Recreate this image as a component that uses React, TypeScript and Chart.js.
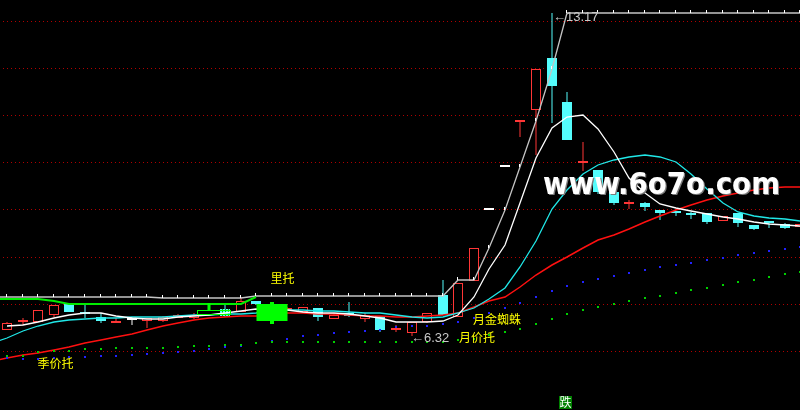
import React, { useEffect, useRef } from "react";
import { Chart, registerables } from "chart.js";

Chart.register(...registerables);

// ---------------- data ----------------
const barIndex = Array.from({ length: 52 }, (_, i) => i);

const opens = [
  6.44, 6.62, 6.62, 6.76, 7.01, 6.80, 6.72, 6.58, 6.65, 6.63,
  6.63, 6.70, 6.69, 7.01, 6.89, 6.83, 7.06, 6.99, 6.86, 6.83,
  6.90, 6.67, 6.79, 6.67, 6.74, 6.44, 6.38, 6.60, 7.18, 6.72,
  7.49, 8.99, 9.89, 10.86, 11.10, 12.22, 11.28, 9.99, 9.84, 9.38,
  9.12, 9.14, 8.99, 8.935, 8.89, 8.92, 8.76, 8.92, 8.67, 8.72,
  8.68, 8.63,
];
const highs = [
  6.61, 6.69, 6.87, 6.97, 7.01, 6.97, 6.79, 6.70, 6.72, 6.69,
  6.73, 6.78, 6.79, 7.01, 6.97, 7.15, 7.06, 7.04, 6.92, 6.92,
  6.90, 6.79, 7.04, 6.80, 6.74, 6.55, 6.60, 6.81, 7.50, 7.43,
  8.17, 8.99, 9.89, 10.88, 11.98, 13.17, 11.50, 10.44, 9.84, 9.38,
  9.19, 9.15, 8.99, 8.97, 8.95, 8.92, 8.86, 8.93, 8.67, 8.74,
  8.72, 8.69,
];
const lows = [
  6.44, 6.55, 6.62, 6.72, 6.83, 6.69, 6.58, 6.58, 6.55, 6.48,
  6.60, 6.70, 6.68, 6.86, 6.72, 6.83, 6.98, 6.57, 6.86, 6.80,
  6.64, 6.67, 6.72, 6.62, 6.40, 6.39, 6.32, 6.59, 6.75, 6.72,
  7.49, 8.99, 9.89, 10.54, 10.16, 10.84, 10.47, 9.82, 9.33, 9.10,
  9.00, 8.97, 8.78, 8.85, 8.79, 8.69, 8.76, 8.63, 8.56, 8.60,
  8.58, 8.62,
];
const closes = [
  6.58, 6.66, 6.86, 6.97, 6.83, 6.78, 6.64, 6.63, 6.65, 6.69,
  6.72, 6.76, 6.76, 6.86, 6.74, 7.06, 6.99, 6.63, 6.90, 6.92,
  6.71, 6.76, 6.74, 6.76, 6.45, 6.46, 6.60, 6.81, 6.76, 7.43,
  8.17, 8.99, 9.89, 10.88, 11.98, 11.62, 10.47, 10.03, 9.38, 9.13,
  9.14, 9.06, 8.93, 8.925, 8.88, 8.74, 8.86, 8.71, 8.58, 8.71,
  8.61, 8.68,
];

const ma5 = [
  6.524, 6.556, 6.599, 6.694, 6.758, 6.794, 6.794, 6.747, 6.694, 6.673,
  6.673, 6.705, 6.737, 6.758, 6.79, 6.843, 6.885, 6.874, 6.864, 6.828,
  6.81, 6.794, 6.78, 6.747, 6.694, 6.62, 6.603, 6.603, 6.63, 6.758,
  7.13, 7.735, 8.244, 9.14, 10.09, 10.722, 10.968, 10.994, 10.707, 10.219,
  9.667, 9.338, 9.115, 9.02, 8.966, 8.892, 8.839, 8.786, 8.733, 8.70,
  8.673, 8.654,
];
const ma10 = [
  6.28, 6.418, 6.535, 6.61, 6.652, 6.673, 6.688, 6.699, 6.709, 6.716,
  6.726, 6.741, 6.754, 6.762, 6.775, 6.788, 6.811, 6.843, 6.868, 6.864,
  6.849, 6.838, 6.828, 6.811, 6.794, 6.758, 6.722, 6.694, 6.705, 6.8,
  6.917, 7.098, 7.331, 7.777, 8.329, 9.01, 9.412, 9.752, 9.943, 10.04,
  10.123, 10.155, 10.123, 10.017, 9.752, 9.433, 9.136, 8.945, 8.87, 8.824,
  8.792, 8.76,
];
const ma20 = [
  5.845, 5.9, 5.96, 6.015, 6.078, 6.163, 6.227, 6.285, 6.355, 6.44,
  6.524, 6.595, 6.652, 6.684, 6.716, 6.731, 6.737, 6.769, 6.794, 6.79,
  6.78, 6.769, 6.758, 6.747, 6.737, 6.726, 6.726, 6.737, 6.758, 6.811,
  6.928, 7.055, 7.14, 7.359, 7.597, 7.83, 8.0, 8.191, 8.34, 8.467,
  8.594, 8.733, 8.86, 8.977, 9.094, 9.2, 9.285, 9.348, 9.412, 9.455,
  9.47, 9.47,
];
const prevHigh = [
  7.147, 7.147, 7.147, 7.147, 7.147, 7.147, 7.147, 7.147, 7.147, 7.147,
  7.113, 7.113, 7.113, 7.113, 7.113, 7.113, 7.16, 7.16, 7.16, 7.16,
  7.16, 7.16, 7.16, 7.16, 7.16, 7.16, 7.16, 7.16, 7.16, 7.50,
  7.50, 8.17, 8.99, 9.89, 10.88, 11.98, 13.17, 13.17, 13.17, 13.17,
  13.17, 13.17, 13.17, 13.17, 13.17, 13.17, 13.17, 13.17, 13.17, 13.17,
  13.17, 13.17,
];
const greenLine: (number | null)[] = [
  7.10, 7.10, 7.10, 7.06, 7.0, 6.99, 6.99, 6.99, 6.99, 6.99,
  6.99, 6.99, 6.99, 6.99, 6.99, 7.0, 7.15, null, null, null,
  null, null, null, null, null, null, null, null, null, null,
  null, null, null, null, null, null, null, null, null, null,
  null, null, null, null, null, null, null, null, null, null,
  null, null,
];
// values of the bar just left of the visible window (only the lines reach into view)
const ma10Before = 6.167;
const ma20Before = 5.786;
const prevHighBefore = 7.147;
const greenLineBefore = 7.10;

const blueDots = [
  5.851, 5.83, 5.834, 5.845, 5.856, 5.873, 5.894, 5.894, 5.915, 5.936,
  5.957, 5.966, 6.0, 6.042, 6.072, 6.11, 6.157, 6.212, 6.255, 6.306,
  6.333, 6.369, 6.391, 6.425, 6.439, 6.497, 6.524, 6.531, 6.561, 6.609,
  6.684, 6.79, 6.9, 7.019, 7.147, 7.274, 7.38, 7.465, 7.529, 7.592,
  7.656, 7.72, 7.783, 7.826, 7.868, 7.926, 7.975, 8.038, 8.081, 8.123,
  8.166, 8.212,
];
const greenDots = [
  5.894, 5.887, 5.966, 6.0, 6.0, 6.03, 6.042, 6.064, 6.057, 6.064,
  6.057, 6.085, 6.094, 6.106, 6.127, 6.127, 6.157, 6.178, 6.178, 6.178,
  6.178, 6.178, 6.178, 6.178, 6.178, 6.178, 6.178, 6.178, 6.185, 6.227,
  6.259, 6.323, 6.391, 6.467, 6.573, 6.679, 6.786, 6.87, 6.934, 6.998,
  7.061, 7.125, 7.168, 7.231, 7.295, 7.338, 7.401, 7.465, 7.507, 7.571,
  7.635, 7.677,
];

const gridPrices = [6, 7, 8, 9, 10, 11, 12, 13];
const thinGreenBars = [13];
const wideGreenBars = [17];
const hatchedBars = [14];
const boxPos = [13.27];
const boxLow = [6.758];
const boxHigh = [6.864];
const lowMarkBar = 26;
const highMarkBar = 35;

const yellowLabels = [
  { text: "里托", x: 270.5, y: 278 },
  { text: "季价托", x: 37.5, y: 363 },
  { text: "月金蜘蛛", x: 473, y: 319.5 },
  { text: "月价托", x: 459, y: 337.5 },
];
const WATERMARK = "www.6o7o.com";

// ---------------- styles ----------------
const UP = "#ff3636";
const DOWN = "#54fcfc";
const FLAT = "#ffffff";
const GREEN = "#00ff00";
const X_MIN = -0.4695;
const X_MAX = 50.978;
const Y_MIN = 4.741;
const Y_MAX = 13.446;

function candleColor(i: number) {
  if (closes[i] > opens[i]) return UP;
  if (closes[i] < opens[i]) return DOWN;
  return FLAT;
}

function makeTile(w: number, h: number, draw: (g: CanvasRenderingContext2D) => void) {
  const c = document.createElement("canvas");
  c.width = w;
  c.height = h;
  draw(c.getContext("2d")!);
  return c;
}

const gridPlugin = {
  id: "dottedGrid",
  beforeDatasetsDraw(chart: any) {
    const { ctx, chartArea, scales } = chart;
    ctx.save();
    ctx.strokeStyle = "#b00000";
    ctx.lineWidth = 1;
    ctx.setLineDash([1, 3]);
    gridPrices.forEach((v) => {
      const py = Math.round(scales.y.getPixelForValue(v)) + 0.5;
      ctx.beginPath();
      ctx.moveTo(chartArea.left + 3, py);
      ctx.lineTo(chartArea.right, py);
      ctx.stroke();
    });
    ctx.restore();
  },
};

const labelPlugin = {
  id: "labels",
  afterDatasetsDraw(chart: any) {
    const { ctx, scales } = chart;
    const xs = scales.x;
    const ys = scales.y;
    ctx.save();
    // watermark
    ctx.font = 'bold 28px "DejaVu Sans"';
    const w = ctx.measureText(WATERMARK).width;
    ctx.save();
    ctx.translate(543, 193.5);
    ctx.scale(237 / w, 1.05);
    ctx.textAlign = "left";
    ctx.textBaseline = "alphabetic";
    ctx.fillStyle = "#7c7c7c";
    ctx.fillText(WATERMARK, 1.2, 1.5);
    ctx.fillStyle = "#ffffff";
    ctx.fillText(WATERMARK, 0, 0);
    ctx.restore();

    // yellow labels
    ctx.font = '12px "Noto Sans CJK SC"';
    ctx.textAlign = "left";
    ctx.textBaseline = "middle";
    ctx.fillStyle = "#ffff00";
    yellowLabels.forEach((l) => ctx.fillText(l.text, l.x, l.y));

    // high / low marks
    ctx.font = '13px "Liberation Sans Narrow", "Liberation Sans", sans-serif';
    ctx.fillStyle = "#c8c8c8";
    ctx.fillText(
      "←" + lows[lowMarkBar].toFixed(2),
      xs.getPixelForValue(lowMarkBar) - 1,
      ys.getPixelForValue(lows[lowMarkBar]) + 2
    );
    ctx.fillText(
      "←" + highs[highMarkBar].toFixed(2),
      xs.getPixelForValue(highMarkBar) + 1,
      ys.getPixelForValue(highs[highMarkBar]) + 4.5
    );

    // 跌 marker
    ctx.fillStyle = "#008000";
    ctx.fillRect(559, 396, 13, 13);
    ctx.fillStyle = "#ffffff";
    ctx.font = '12px "Noto Sans CJK SC"';
    ctx.textAlign = "center";
    ctx.fillText("跌", 565.5, 402.5);
    ctx.restore();
  },
};

export default function App() {
  const ref = useRef<HTMLCanvasElement>(null);

  useEffect(() => {
    const canvas = ref.current!;
    const tick = makeTile(2, 6, (g) => {
      g.fillStyle = "#ffffff";
      g.fillRect(0, 0, 1, 3);
    });
    const gDot = makeTile(2, 2, (g) => {
      g.fillStyle = "#00d000";
      g.fillRect(0, 0, 2, 2);
    });
    const bDot = makeTile(2, 2, (g) => {
      g.fillStyle = "#2222ff";
      g.fillRect(0, 0, 2, 2);
    });
    const hatchTile = makeTile(3, 1, (g) => {
      g.fillStyle = "#00c000";
      g.fillRect(0, 0, 1, 1);
    });
    const hatch = canvas.getContext("2d")!.createPattern(hatchTile, "repeat");

    const normal = barIndex.filter(
      (i) => !thinGreenBars.includes(i) && !wideGreenBars.includes(i)
    );

    const barBase = { type: "bar" as const, grouped: false, inflateAmount: 0 };
    const line = (
      label: string,
      values: (number | null)[],
      before: number | null,
      color: string,
      width: number,
      order: number,
      extra: any = {}
    ) => {
      const pts = values.map((v, i) => ({ x: i, y: v }));
      if (before !== null) pts.unshift({ x: -1, y: before });
      return {
        type: "line" as const,
        label,
        data: pts,
        borderColor: color,
        backgroundColor: color,
        borderWidth: width,
        pointRadius: 0,
        tension: 0,
        fill: false,
        spanGaps: false,
        order,
        ...extra,
      };
    };

    const datasets: any[] = [
      {
        ...barBase,
        label: "wick",
        data: normal.map((i) => ({ x: i, y: [lows[i], highs[i]] })),
        backgroundColor: normal.map(candleColor),
        borderWidth: 0,
        barThickness: 1,
        order: 20,
      },
      {
        ...barBase,
        label: "body",
        data: normal.map((i) => ({ x: i, y: [opens[i], closes[i]] })),
        backgroundColor: normal.map((i) => (closes[i] > opens[i] ? "#000000" : candleColor(i))),
        borderColor: normal.map(candleColor),
        borderWidth: 1,
        borderSkipped: false,
        barThickness: 10,
        minBarLength: 2,
        order: 19,
      },
      {
        ...barBase,
        label: "hatch",
        data: hatchedBars.map((i) => ({ x: i, y: [opens[i], closes[i]] })),
        backgroundColor: hatch,
        borderWidth: 0,
        barThickness: 8,
        order: 18,
      },
      line("MA20", ma20, ma20Before, "#ff1010", 1.5, 15),
      line("MA10", ma10, ma10Before, "#20e8e8", 1.3, 14),
      line("MA5", ma5, null, "#ffffff", 1.3, 13),
      line("prevHigh", prevHigh, prevHighBefore, "#c4c4c4", 1.3, 12, { pointStyle: tick, pointRadius: 2 }),
      line("greenLine", greenLine, greenLineBefore, "#00ee00", 2, 11),
      line("blueDots", blueDots, null, "#2222ff", 1, 10, { showLine: false, pointStyle: bDot, pointRadius: 2 }),
      line("greenDots", greenDots, null, "#00d000", 1, 9, { showLine: false, pointStyle: gDot, pointRadius: 2 }),
      {
        ...barBase,
        label: "thinGreen",
        data: thinGreenBars.map((i) => ({ x: i, y: [lows[i], highs[i]] })),
        backgroundColor: GREEN,
        borderWidth: 0,
        barThickness: 3,
        order: 4,
      },
      {
        ...barBase,
        label: "wideGreenWick",
        data: wideGreenBars.map((i) => ({ x: i, y: [lows[i], highs[i]] })),
        backgroundColor: GREEN,
        borderWidth: 0,
        barThickness: 4,
        order: 4,
      },
      {
        ...barBase,
        label: "wideGreenBody",
        data: wideGreenBars.map((i) => ({ x: i, y: [opens[i], closes[i]] })),
        backgroundColor: GREEN,
        borderWidth: 0,
        barThickness: 31,
        order: 3,
      },
      {
        ...barBase,
        label: "greenBox",
        data: boxPos.map((p, k) => ({ x: p, y: [boxLow[k], boxHigh[k]] })),
        backgroundColor: "rgba(0,0,0,0)",
        borderColor: GREEN,
        borderWidth: 1,
        borderSkipped: false,
        barThickness: 34,
        order: 2,
      },
    ];

    const chart = new Chart(canvas, {
      type: "bar",
      data: { datasets },
      options: {
        animation: false,
        responsive: false,
        maintainAspectRatio: false,
        events: [],
        layout: { padding: 0, autoPadding: false },
        plugins: { legend: { display: false }, tooltip: { enabled: false } },
        scales: {
          x: { type: "linear", min: X_MIN, max: X_MAX, display: false, offset: false, alignToPixels: true },
          y: { type: "linear", min: Y_MIN, max: Y_MAX, display: false, alignToPixels: true },
        },
      } as any,
      plugins: [gridPlugin, labelPlugin],
    });
    return () => chart.destroy();
  }, []);

  return (
    <div
      style={{
        position: "fixed",
        left: 0,
        top: 0,
        width: 800,
        height: 410,
        background: "#000000",
      }}
    >
      <canvas ref={ref} width={800} height={410} style={{ display: "block" }} />
    </div>
  );
}
